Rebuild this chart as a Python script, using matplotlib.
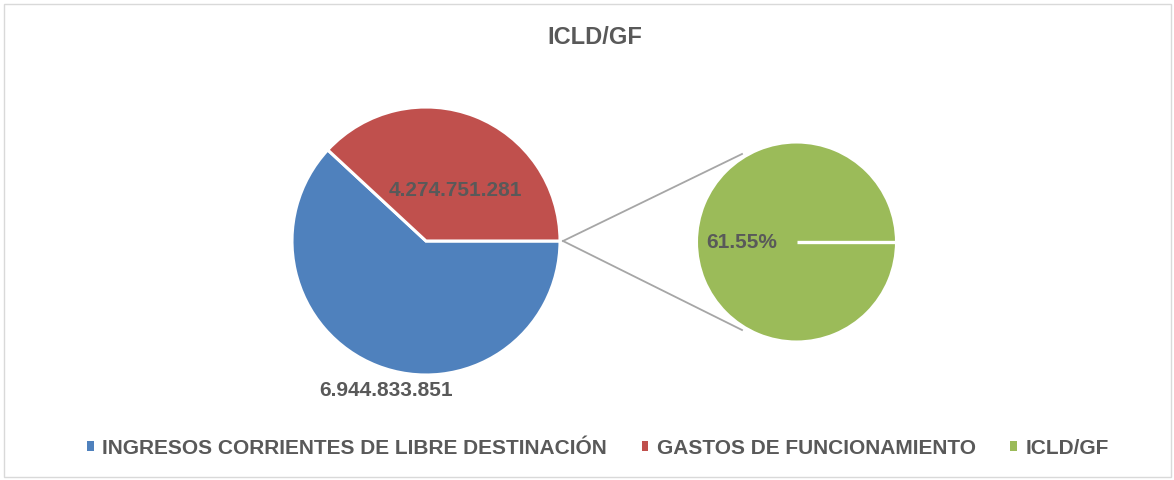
import matplotlib
matplotlib.use("Agg")
import matplotlib.pyplot as plt
from matplotlib.patches import Rectangle, Patch
from matplotlib.lines import Line2D

# ---- data ----
categories = ["INGRESOS CORRIENTES DE LIBRE DESTINACIÓN", "GASTOS DE FUNCIONAMIENTO", "ICLD/GF"]
main_values = [6944833851, 4274751281]
ratio_value = main_values[1] / main_values[0]   # 61.55%
title = "ICLD/GF"

colors = ["#4F81BD", "#C0504D", "#9BBB59"]
text_color = "#595959"
plt.rcParams["font.family"] = ["Liberation Sans", "DejaVu Sans"]

W, H = 1174, 480
fig = plt.figure(figsize=(W / 100, H / 100), dpi=100)
ax = fig.add_axes([0, 0, 1, 1])


def Y(y):
    return H - y


# main pie
main_c = (426, Y(241))
main_r = 134
ax.pie(main_values, colors=colors[:2], startangle=0, counterclock=False,
       center=main_c, radius=main_r,
       wedgeprops=dict(edgecolor="white", linewidth=2.2), frame=True)

# secondary pie (single slice -> draw its start edge explicitly)
sec_c = (796.5, Y(242))
sec_r = 100
ax.pie([ratio_value], colors=[colors[2]], startangle=0, center=sec_c, radius=sec_r,
       wedgeprops=dict(edgecolor="white", linewidth=2.2), frame=True)
ax.add_line(Line2D([sec_c[0], sec_c[0] + sec_r], [sec_c[1], sec_c[1]],
                   color="white", lw=2.4, solid_capstyle="butt"))

ax.set_xlim(0, W)
ax.set_ylim(0, H)
ax.set_aspect("equal")
ax.axis("off")

# chart border
ax.add_patch(Rectangle((3.5, Y(476.5)), W - 7, 473, fill=False, edgecolor="#D9D9D9", lw=1.0))

# connector lines
ax.add_line(Line2D([563, 742], [Y(241), Y(154)], color="#A6A6A6", lw=1.3))
ax.add_line(Line2D([563, 742], [Y(241), Y(330)], color="#A6A6A6", lw=1.3))


def fmt(v):
    return f"{v:,}".replace(",", ".")


lab_kw = dict(fontsize=15, fontweight="bold", color=text_color, ha="center", va="center")
ax.text(455, Y(190), fmt(main_values[1]), **lab_kw)
ax.text(386, Y(391), fmt(main_values[0]), **lab_kw)
ax.text(741.5, Y(243), f"{ratio_value * 100:.2f}%", **lab_kw)

# title
ax.text(595, Y(38), title, fontsize=17, fontweight="bold", color=text_color, ha="center", va="center")

# legend
handles = [Patch(facecolor=c, edgecolor="none") for c in colors]
leg = fig.legend(handles, categories, loc="center", bbox_to_anchor=(598 / W, 1 - 448 / H),
                 ncol=3, frameon=False, handlelength=0.33, handleheight=0.33,
                 handletextpad=0.4, columnspacing=1.65,
                 prop=dict(family="Liberation Sans", weight="bold", size=15))
for t in leg.get_texts():
    t.set_color(text_color)

fig.savefig("out.png", dpi=100)
